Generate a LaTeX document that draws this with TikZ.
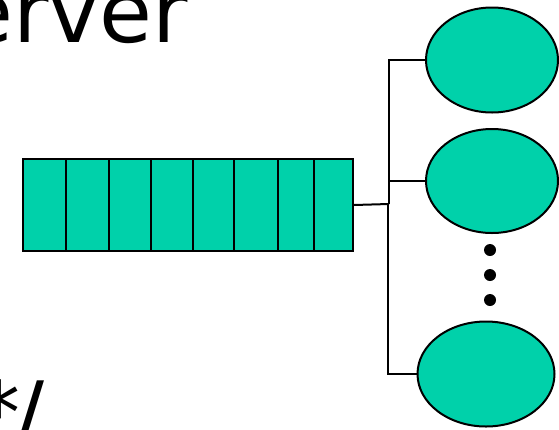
\documentclass[tikz,border=0pt]{standalone}
\usepackage{fontspec}
\setmainfont{DejaVu Sans}
\usetikzlibrary{shapes.geometric}
\definecolor{teal1}{RGB}{0,209,170}
\tikzset{
  cellbox/.style={draw=black, fill=teal1, line width=2pt, inner sep=0pt, anchor=north west},
  worker/.style={ellipse, draw=black, fill=teal1, line width=2pt, inner sep=0pt},
  link/.style={draw=black, line width=2pt},
  dot/.style={circle, fill=black, inner sep=0pt, minimum size=12pt},
  bigtext/.style={font=\fontsize{86pt}{90pt}\selectfont, inner sep=0pt}
}
\begin{document}
\begin{tikzpicture}[x=1pt, y=-1pt]
\path[use as bounding box] (0,0) rectangle (559,429);
% title fragments
\node[bigtext, anchor=base east] (title) at (188,42) {erver};
\node[bigtext, anchor=base east] (cmt) at (45,443) {*\kern-5pt/};
% queue cells
\foreach \i/\a/\b in {1/22/65, 2/65/108, 3/108/150, 4/150/192, 5/192/233, 6/233/277, 7/277/313, 8/313/352}{
  \pgfmathsetmacro{\w}{\b-\a}
  \node[cellbox, minimum width=\w pt, minimum height=92pt] (c\i) at (\a,158) {};
}
% workers
\node[worker, minimum width=132pt, minimum height=105pt] (w1) at (492,60) {};
\node[worker, minimum width=132pt, minimum height=104pt] (w2) at (492,181) {};
\node[worker, minimum width=137pt, minimum height=105pt] (w3) at (486,374) {};
% dots
\node[dot] (d1) at (490,250) {};
\node[dot] (d2) at (490,275) {};
\node[dot] (d3) at (490,300) {};
% connectors
\coordinate (j) at (389,204);
\coordinate (j2) at (388,204);
\draw[link] (c8.east) -- (j);
\draw[link] (j) |- (w1.west);
\draw[link] (j) |- (w2.west);
\draw[link] (j2) |- (w3.west);
\end{tikzpicture}
\end{document}
